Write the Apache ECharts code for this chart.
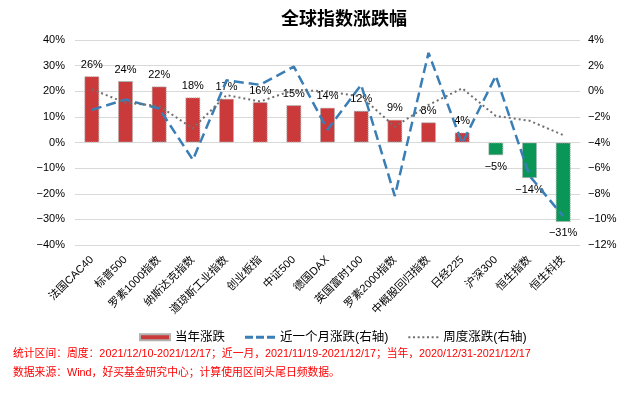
<!DOCTYPE html>
<html><head><meta charset="utf-8">
<script src="https://cdn.jsdelivr.net/npm/echarts@6/dist/echarts.min.js"></script>
<style>html,body{margin:0;padding:0;background:#fff}#c{width:626px;height:394px}</style>
</head><body><div id="c"></div>
<script>
const categories = ['法国CAC40','标普500','罗素1000指数','纳斯达克指数','道琼斯工业指数','创业板指','中证500','德国DAX','英国富时100','罗素2000指数','中概股回归指数','日经225','沪深300','恒生指数','恒生科技'];
const yearChange = [25.9, 24.0, 21.9, 17.6, 17.1, 15.8, 14.6, 13.6, 12.4, 8.9, 7.9, 3.9, -5.0, -13.9, -31.0];
const monthChange = [-1.45, -0.65, -1.35, -5.35, 0.85, 0.5, 1.92, -3.0, 0.5, -8.18, 3.0, -4.07, 1.2, -6.6, -9.75];
const weekChange = [0.15, -0.9, -1.15, -2.9, -0.3, -0.8, 0.1, 0.0, -0.42, -2.77, -1.07, 0.23, -1.93, -2.3, -3.42];
const leftTicks = {min: -40, max: 40, interval: 10};
const rightTicks = {min: -12, max: 4, interval: 2};

const fmt = v => (v < 0 ? '\u2212' + Math.abs(v) : v) + '%';
const FONT = '"Noto Sans CJK SC", sans-serif';
const MIX = '"Liberation Sans", "Noto Sans CJK SC", sans-serif';
const chart = echarts.init(document.getElementById('c'), null, {renderer: 'canvas'});
chart.setOption({
  animation: false,
  backgroundColor: '#fff',
  title: {text: '全球指数涨跌幅', left: 276, top: 4,
    textStyle: {fontFamily: FONT, fontSize: 18, fontWeight: 'bold', color: '#000'}},
  grid: {left: 75, right: 46, top: 40, bottom: 149},
  legend: {
    top: 326, left: 134, itemWidth: 30, itemHeight: 6, itemGap: 20,
    textStyle: {fontFamily: MIX, fontSize: 12.5, color: '#000'},
    data: [
      {name: '当年涨跌', icon: 'rect', itemStyle: {color: '#CB3A3B'}},
      {name: '近一个月涨跌(右轴)', icon: 'path://M0,0h8v3h-8z M11,0h8v3h-8z M22,0h8v3h-8z', itemStyle: {color: '#3A7EB6'}},
      {name: '周度涨跌(右轴)', icon: 'path://M0,0h2v2h-2z M4.6,0h2v2h-2z M9.2,0h2v2h-2z M13.8,0h2v2h-2z M18.4,0h2v2h-2z M23,0h2v2h-2z M27.6,0h2v2h-2z', itemStyle: {color: '#707070'}}
    ]
  },
  xAxis: {
    type: 'category', data: categories, position: 'bottom',
    axisLine: {show: false, onZero: false}, axisTick: {show: false},
    axisLabel: {rotate: 45, interval: 0, fontFamily: MIX, fontSize: 11, color: '#000', margin: 13}
  },
  yAxis: [
    {type: 'value', min: leftTicks.min, max: leftTicks.max, interval: leftTicks.interval,
     axisLine: {show: false}, axisTick: {show: false},
     splitLine: {lineStyle: {color: '#d9d9d9', width: 1}},
     axisLabel: {formatter: fmt, fontFamily: 'Liberation Sans, sans-serif', fontSize: 11, color: '#000', margin: 10}},
    {type: 'value', min: rightTicks.min, max: rightTicks.max, interval: rightTicks.interval,
     axisLine: {show: false}, axisTick: {show: false}, splitLine: {show: false},
     axisLabel: {formatter: fmt, fontFamily: 'Liberation Sans, sans-serif', fontSize: 11, color: '#000', margin: 8}}
  ],
  series: [
    {name: '当年涨跌', type: 'bar', yAxisIndex: 0, barWidth: 15,
     data: yearChange.map(v => ({value: v, itemStyle: {color: v >= 0 ? '#CB3A3B' : '#0A9656'},
       label: {position: v >= 0 ? 'top' : 'bottom'}})),
     itemStyle: {color: '#CB3A3B', borderColor: '#b0b0b0', borderWidth: 1, borderType: 'dotted'},
     label: {show: true, fontFamily: 'Liberation Sans, sans-serif', fontSize: 11, color: '#000', distance: 6,
       formatter: p => fmt(Math.round(p.value))},
     z: 2},
    {name: '近一个月涨跌(右轴)', type: 'line', yAxisIndex: 1, data: monthChange, symbol: 'none',
     lineStyle: {color: '#3A7EB6', width: 2.5, type: [10, 5]}, itemStyle: {color: '#3A7EB6'}, z: 3},
    {name: '周度涨跌(右轴)', type: 'line', yAxisIndex: 1, data: weekChange, symbol: 'none',
     lineStyle: {color: '#707070', width: 2, type: [2, 3]}, itemStyle: {color: '#707070'}, z: 4}
  ],
  graphic: [
    {type: 'text', left: 13, top: 349, style: {text: '统计区间：周度：2021/12/10-2021/12/17；近一月，2021/11/19-2021/12/17；当年，2020/12/31-2021/12/17',
      fill: '#ff0000', font: '10.8px ' + MIX}},
    {type: 'text', left: 13, top: 368, style: {text: '数据来源：Wind，好买基金研究中心；计算使用区间头尾日频数据。',
      fill: '#ff0000', font: '10.8px ' + MIX}}
  ]
});
</script></body></html>
